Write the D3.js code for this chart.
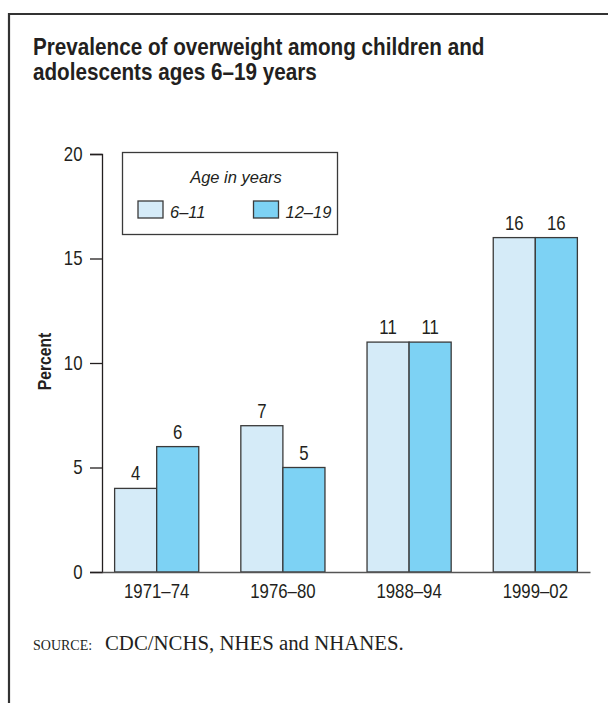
<!DOCTYPE html>
<html>
<head>
<meta charset="utf-8">
<script src="https://cdn.jsdelivr.net/npm/d3@7"></script>
<style>
  html, body { margin: 0; padding: 0; background: #fff; }
  svg { display: block; }
</style>
</head>
<body>
<script>
// Prevalence of overweight, by survey period and age group (percent)
const periods = ["1971–74", "1976–80", "1988–94", "1999–02"];
const ageGroups = ["6–11", "12–19"];
const ages6to11 = [4, 7, 11, 16];
const ages12to19 = [6, 5, 11, 16];
const yTicks = [0, 5, 10, 15, 20];
const groupColors = ["#d5ebf8", "#7dd2f4"];

const W = 608, H = 703;
const sans = "'Liberation Sans', Arial, Helvetica, sans-serif";
const serif = "'Liberation Serif', 'Times New Roman', serif";
const ink = "#231f20";
const NARROW = 0.84;   // horizontal squeeze giving a condensed face
const LABEL_SIZE = 20;

// place a text node at (px, py) and squeeze it horizontally
function squeeze(sel, px, py, sx) {
  return sel.attr("x", 0).attr("y", 0)
    .attr("transform", `translate(${px},${py}) scale(${sx},1)`);
}

const svg = d3.select("body").append("svg")
  .attr("width", W).attr("height", H);

// panel frame (open to the right and bottom)
svg.append("path")
  .attr("d", `M9,${H} V14 H${W}`)
  .attr("fill", "none").attr("stroke", "#333").attr("stroke-width", 2.2);

// title
const titleLines = ["Prevalence of overweight among children and",
                    "adolescents ages 6–19 years"];
titleLines.forEach((t, i) => {
  squeeze(svg.append("text"), 33, 55 + i * 25, 0.88)
    .attr("font-family", sans).attr("font-weight", "bold")
    .attr("font-size", 23.5).attr("fill", ink)
    .text(t);
});

// scales
const x = d3.scaleBand().domain(periods).range([102, 590])
  .paddingInner(1 / 3).paddingOuter(0.1);
const xSub = d3.scaleBand().domain(ageGroups).range([0, x.bandwidth()]);
const y = d3.scaleLinear().domain([0, 20]).range([572, 154]);

const rows = periods.map((p, i) => ({
  period: p,
  values: [ages6to11[i], ages12to19[i]]
}));

// y axis
const yAxis = svg.append("g").attr("transform", "translate(102,0)")
  .call(d3.axisLeft(y).tickValues(yTicks).tickSize(12).tickPadding(8));
yAxis.select(".domain").attr("stroke", ink).attr("stroke-width", 1.3);
yAxis.selectAll(".tick line").attr("stroke", ink).attr("stroke-width", 1.3);
yAxis.selectAll(".tick text")
  .attr("font-family", sans).attr("font-size", LABEL_SIZE).attr("fill", ink)
  .attr("x", 0)
  .attr("transform", `translate(-19.5,0) scale(${NARROW},1)`);

// y axis title
svg.append("text")
  .attr("transform", `translate(51,361.5) rotate(-90) scale(0.87,1)`)
  .attr("text-anchor", "middle")
  .attr("font-family", sans).attr("font-weight", "bold")
  .attr("font-size", 18).attr("fill", ink)
  .text("Percent");

// bars
const groups = svg.append("g").selectAll("g").data(rows).join("g")
  .attr("transform", d => `translate(${x(d.period)},0)`);

groups.selectAll("rect")
  .data(d => d.values.map((v, j) => ({ key: ageGroups[j], v, j })))
  .join("rect")
  .attr("x", d => xSub(d.key))
  .attr("y", d => y(d.v))
  .attr("width", xSub.bandwidth())
  .attr("height", d => y(0) - y(d.v))
  .attr("fill", d => groupColors[d.j])
  .attr("stroke", "#3a3a3a").attr("stroke-width", 1.3);

groups.selectAll("text.val")
  .data(d => d.values.map((v, j) => ({ key: ageGroups[j], v })))
  .join("text").attr("class", "val")
  .each(function (d) {
    squeeze(d3.select(this), xSub(d.key) + xSub.bandwidth() / 2, y(d.v) - 8, NARROW);
  })
  .attr("text-anchor", "middle")
  .attr("font-family", sans).attr("font-size", LABEL_SIZE).attr("fill", ink)
  .text(d => d.v);

// x axis baseline and period labels
const xAxis = svg.append("g").attr("transform", `translate(0,${y(0)})`)
  .call(d3.axisBottom(x).tickSize(0).tickPadding(11.5));
xAxis.select(".domain").attr("stroke", "#555").attr("stroke-width", 1.5);
xAxis.selectAll(".tick text")
  .attr("font-family", sans).attr("font-size", LABEL_SIZE).attr("fill", ink)
  .attr("transform", `scale(${NARROW},1)`);

// legend
const lg = svg.append("g");
lg.append("rect").attr("x", 122.5).attr("y", 152.5).attr("width", 215).attr("height", 82)
  .attr("fill", "#fff").attr("stroke", "#3a3a3a").attr("stroke-width", 1.3);
lg.append("text").attr("x", 236).attr("y", 183).attr("text-anchor", "middle")
  .attr("font-family", sans).attr("font-style", "italic")
  .attr("font-size", 16.5).attr("fill", ink)
  .text("Age in years");
const legendX = [138, 253.5];
ageGroups.forEach((g, j) => {
  lg.append("rect").attr("x", legendX[j]).attr("y", 201)
    .attr("width", 25).attr("height", 17)
    .attr("fill", groupColors[j]).attr("stroke", "#3a3a3a").attr("stroke-width", 1.3);
  lg.append("text").attr("x", legendX[j] + 32).attr("y", 218)
    .attr("font-family", sans).attr("font-style", "italic")
    .attr("font-size", 16.5).attr("fill", ink)
    .text(g);
});

// source note
const src = svg.append("text").attr("y", 650)
  .attr("font-family", serif).attr("fill", ink);
src.append("tspan").attr("x", 33).attr("font-size", 14).text("SOURCE:");
src.append("tspan").attr("x", 105).attr("font-size", 20.8)
  .text("CDC/NCHS, NHES and NHANES.");
</script>
</body>
</html>
